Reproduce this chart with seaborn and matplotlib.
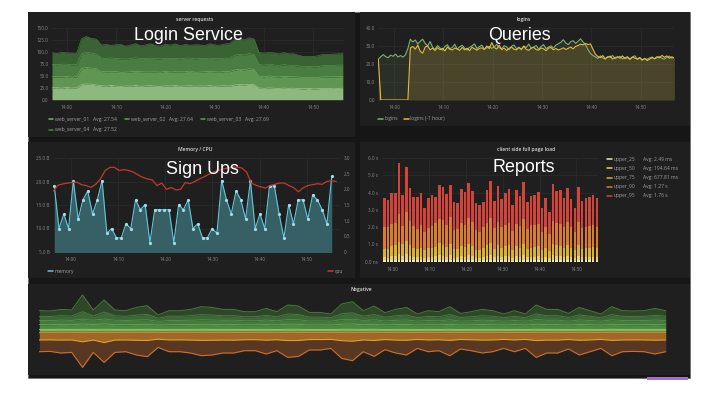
import numpy as np
import matplotlib
matplotlib.use("Agg")
import matplotlib.pyplot as plt
import seaborn as sns
from matplotlib.patches import Rectangle
from matplotlib.lines import Line2D

sns.set_theme(style="dark")
plt.rcParams["font.family"] = ["Open Sans", "DejaVu Sans"]

W, H = 715, 403

# tiempo en minutos desde las 14:00
tick_min = [0, 10, 20, 30, 40, 50]
tick_lab = ["14:00", "14:10", "14:20", "14:30", "14:40", "14:50"]

# server requests (una muestra por minuto, 13:57 .. 14:56)
t_req = np.arange(-3, 57)
web_server_01 = [24.8, 25.3, 24.1, 25.6, 24.5, 25.0,
                 31.8, 33.2, 32.5, 31.0,
                 29.4, 28.2, 29.9, 28.6, 27.8, 29.1, 28.4, 29.7, 28.0, 28.9, 29.5, 28.3, 27.9, 29.2,
                 28.7, 29.8, 28.1, 28.8, 29.4, 28.2, 29.0, 28.5, 29.6, 28.0, 28.9, 29.3, 28.6,
                 30.8, 31.9, 31.2, 32.4, 31.5,
                 24.6, 23.9, 24.8, 24.1, 23.6, 24.4, 23.8, 24.2, 23.4, 22.9, 23.6, 22.8, 23.1, 23.9,
                 23.4, 24.1, 23.7, 24.3]
web_server_02 = [23.4, 22.8, 23.9, 23.1, 22.6, 23.5,
                 33.5, 34.6, 33.8, 34.2,
                 29.8, 30.6, 29.1, 30.2, 29.5, 28.8, 30.4, 29.6, 30.9, 29.3, 28.7, 30.1, 29.9, 30.5,
                 29.2, 28.9, 30.3, 29.7, 30.8, 29.4, 29.0, 30.2, 29.6, 30.7, 29.1, 29.8, 30.4,
                 31.6, 32.2, 31.4, 32.8, 31.9,
                 24.9, 24.3, 25.1, 24.6, 24.0, 24.8, 24.4, 23.9, 24.5, 23.6, 23.2, 23.8, 23.4, 24.1,
                 24.6, 24.0, 24.7, 24.3]
web_server_03 = [26.1, 25.5, 26.6, 25.8, 26.3, 25.4,
                 31.2, 32.0, 31.6, 30.8,
                 28.3, 27.6, 28.8, 27.9, 28.5, 27.2, 28.1, 28.7, 27.5, 28.4, 29.0, 27.8, 28.2, 27.4,
                 28.9, 28.0, 27.7, 28.6, 27.3, 28.3, 28.8, 27.9, 28.1, 27.6, 28.5, 28.2, 27.8,
                 30.6, 31.4, 30.9, 31.8, 31.1,
                 24.7, 24.1, 24.9, 24.4, 23.8, 24.6, 24.2, 23.7, 23.2, 22.8, 23.5, 22.6, 23.0, 23.8,
                 24.3, 23.6, 24.4, 24.0]
web_server_04 = [24.2, 23.5, 24.8, 23.9, 24.5, 23.7,
                 31.8, 32.9, 30.6, 31.4,
                 27.4, 29.6, 26.3, 28.8, 30.1, 27.0, 28.2, 29.9, 26.6, 28.5, 30.4, 27.3, 26.8, 29.1,
                 28.0, 30.6, 27.5, 28.9, 26.9, 29.4, 28.3, 27.1, 30.2, 28.6, 27.8, 29.7, 31.0,
                 32.4, 33.6, 31.9, 33.1, 32.7,
                 24.8, 25.6, 24.1, 25.3, 24.6, 25.1, 23.9, 24.7, 22.4, 21.3, 20.8, 21.6, 22.9, 23.6,
                 22.8, 24.1, 23.4, 23.9]
req_avgs = ["27.54", "27.64", "27.69", "27.52"]

# logins (cada 30 s)
t_log = np.linspace(-3.2, 56.8, 121)
logins = [22.7, 24.1, 25.3, 24.2, 23.6, 25.0, 24.4, 25.6, 24.0, 24.8, 23.9, 25.2,
          28.8, 33.9,
          32.4, 33.5, 31.2, 32.8, 33.9, 31.5, 30.2, 32.6,
          29.5, 28.2, 30.4, 29.0, 27.8, 29.9, 30.8, 28.6, 29.3, 31.1,
          28.4, 29.7, 30.5, 28.9, 27.9, 29.4, 30.2, 31.3, 28.7, 29.8,
          30.6, 28.3, 29.1, 30.0, 28.8, 29.6, 31.0, 29.2, 28.5, 30.3,
          29.7, 28.1, 29.9, 30.7, 28.6, 29.4, 28.0, 30.1, 29.3, 31.2,
          28.9, 29.6, 30.4, 28.4, 29.8, 30.9, 28.7, 29.5, 30.2, 29.0,
          30.6, 31.4,
          32.2, 33.6, 31.8, 30.9, 32.5, 33.1, 31.6, 32.8, 34.1, 32.4,
          30.8, 28.2, 26.0,
          24.8, 24.1, 23.2, 24.6, 23.5, 22.8, 24.3, 23.7, 24.9, 23.1,
          23.8, 24.4, 22.9, 23.6, 24.2, 23.0, 23.9, 24.7, 22.6, 23.4,
          22.2, 23.1, 22.7, 23.5, 24.0, 22.9, 23.6, 24.3, 23.2, 22.8,
          23.9, 24.5, 23.3, 23.8]
logins_1h = [22.7, 0.0, 0.0, 0.0, 0.0, 0.0, 0.0, 0.0, 0.0, 0.0, 0.0, 0.0,
             0.0, 29.1,
             29.8, 28.4, 30.6, 27.2, 26.1, 29.5, 30.3, 28.0,
             28.9, 27.6, 29.2, 28.1, 28.8, 27.4, 29.5, 28.3, 27.9, 29.0,
             28.5, 27.7, 29.3, 28.0, 28.9, 27.5, 29.4, 28.6, 27.8, 28.8,
             29.1, 28.2, 30.1, 28.7, 32.0, 29.3, 28.4, 30.6, 28.1, 29.0,
             27.6, 28.8, 29.5, 28.3, 27.9, 29.2, 28.5, 30.0, 28.2, 27.7,
             28.9, 29.4, 28.1, 27.8, 29.0, 28.6, 27.5, 28.9, 29.3, 28.0,
             28.7, 27.9, 28.4, 29.1, 28.2, 28.8, 29.6, 28.5, 29.9, 30.4,
             31.2, 30.7,
             31.6, 30.9, 31.3, 28.4, 25.6,
             24.3, 23.6, 24.8, 23.0, 23.9, 24.5, 22.8, 23.7, 24.1, 23.3,
             24.6, 23.1, 23.8, 22.6, 24.0, 23.4, 22.9, 23.7, 22.4, 23.2,
             22.0, 22.8, 23.6, 23.1, 24.2, 23.5, 24.9, 23.8, 24.6, 23.3,
             24.1, 23.5]

# Memory / CPU
t_mem = np.linspace(-3.54, 55.3, 59)
memory = [19.1, 10.0, 13.1, 10.0, 20.2, 12.0, 16.1, 18.0, 13.1, 16.1,
          20.2, 9.0, 10.0, 8.0, 8.0, 11.0, 10.0, 16.1, 14.0, 15.1,
          7.0, 14.0, 14.0, 14.0, 14.0, 7.0, 15.1, 14.0, 16.1, 10.0,
          11.0, 8.0, 8.0, 10.0, 9.0, 20.2, 16.1, 13.1, 18.0, 16.1,
          12.0, 20.2, 10.0, 13.1, 10.0, 19.1, 19.1, 13.1, 8.0, 15.1,
          11.0, 16.1, 16.1, 12.0, 17.1, 16.1, 14.0, 11.0, 21.1]
t_cpu = np.linspace(-3.75, 56.25, 61)
cpu = [1.94, 2.13, 2.17, 2.20, 2.22, 2.23, 2.15, 2.12, 2.06, 2.16,
       2.33, 2.60, 2.70, 2.70, 2.60, 2.63, 2.60, 2.55, 2.46, 2.38,
       2.33, 2.30, 2.12, 2.20, 2.00, 2.06, 1.98, 2.00, 2.22, 2.18,
       2.25, 2.33, 2.40, 2.48, 2.55, 2.60, 2.65, 2.68, 2.71, 2.71,
       2.68, 2.55, 2.20, 2.13, 2.08, 2.04, 2.12, 2.16, 2.20, 2.20,
       2.12, 2.05, 1.92, 2.05, 2.12, 2.15, 2.18, 2.16, 2.25, 2.28,
       2.25]

# client side full page load (niveles apilados, en segundos)
t_bar = np.linspace(-2.3, 55.6, 59)
upper_95 = [3.67, 3.58, 3.97, 3.97, 5.70, 3.87, 5.50, 4.26, 3.77, 3.77,
            3.97, 3.13, 3.67, 3.87, 3.77, 4.45, 4.35, 3.90, 4.41, 3.48,
            3.38, 4.22, 4.02, 4.55, 4.10, 3.38, 3.29, 3.48, 4.16, 4.68,
            3.52, 4.39, 3.62, 3.97, 4.20, 3.29, 4.14, 3.81, 4.64, 3.48,
            3.81, 3.87, 4.02, 3.13, 3.71, 2.90, 4.49, 4.10, 4.16, 3.67,
            4.29, 3.64, 3.10, 4.35, 3.52, 3.67, 3.77, 3.87, 3.67]
upper_90 = [2.03, 2.03, 2.16, 2.22, 2.74, 2.09, 2.89, 2.36, 2.09, 1.89,
            2.12, 1.74, 1.97, 2.09, 2.22, 2.47, 2.41, 2.12, 2.61, 1.83,
            1.89, 2.22, 2.12, 2.51, 2.31, 1.83, 1.74, 2.03, 2.22, 2.51,
            1.94, 2.30, 2.00, 2.15, 2.25, 1.80, 2.20, 2.05, 2.45, 1.90,
            2.10, 2.10, 2.20, 1.70, 2.00, 1.60, 2.35, 2.25, 2.20, 2.00,
            2.30, 2.00, 1.70, 2.30, 1.95, 2.00, 2.05, 2.10, 2.00]
upper_75 = [0.75, 0.75, 0.93, 0.97, 1.12, 1.01, 1.20, 0.97, 0.77, 0.73,
            0.81, 0.67, 0.77, 0.81, 0.87, 1.06, 0.97, 0.87, 1.01, 0.73,
            0.73, 0.93, 0.87, 1.01, 0.93, 0.67, 0.67, 0.77, 0.97, 1.06,
            0.75, 0.95, 0.80, 0.90, 0.95, 0.65, 0.90, 0.80, 1.00, 0.75,
            0.80, 0.85, 0.90, 0.65, 0.80, 0.60, 1.00, 0.95, 0.90, 0.80,
            0.95, 0.80, 0.65, 0.95, 0.75, 0.80, 0.80, 0.85, 0.80]
upper_50 = [0.28, 0.24, 0.33, 0.35, 0.42, 0.31, 0.45, 0.34, 0.27, 0.25,
            0.29, 0.22, 0.27, 0.29, 0.31, 0.38, 0.34, 0.30, 0.36, 0.24,
            0.25, 0.33, 0.30, 0.37, 0.33, 0.23, 0.22, 0.27, 0.34, 0.38,
            0.26, 0.34, 0.28, 0.32, 0.35, 0.23, 0.33, 0.28, 0.37, 0.26,
            0.28, 0.30, 0.33, 0.22, 0.28, 0.20, 0.36, 0.34, 0.32, 0.28,
            0.35, 0.28, 0.22, 0.34, 0.26, 0.28, 0.29, 0.30, 0.28]
upper_25 = [0.08, 0.07, 0.09, 0.09, 0.10, 0.08, 0.11, 0.09, 0.07, 0.07,
            0.08, 0.06, 0.07, 0.08, 0.08, 0.10, 0.09, 0.08, 0.09, 0.07,
            0.07, 0.09, 0.08, 0.10, 0.09, 0.06, 0.06, 0.07, 0.09, 0.10,
            0.07, 0.09, 0.07, 0.08, 0.09, 0.06, 0.09, 0.08, 0.10, 0.07,
            0.08, 0.08, 0.09, 0.06, 0.07, 0.06, 0.10, 0.09, 0.09, 0.07,
            0.09, 0.07, 0.06, 0.09, 0.07, 0.08, 0.08, 0.08, 0.07]
bar_names = ["upper_25", "upper_50", "upper_75", "upper_90", "upper_95"]
bar_avgs = ["Avg: 2.49 ms", "Avg: 194.64 ms", "Avg: 677.81 ms", "Avg: 1.27 s", "Avg: 1.76 s"]

# Negative (5 series positivas, 3 negativas)
x_neg = np.arange(59)
g1 = [1.3, 1.3, 1.4, 1.3, 1.4, 1.3, 1.4, 1.3, 1.3, 1.3, 1.4, 1.2, 1.3, 1.3, 1.3, 1.4, 1.3, 1.3, 1.3, 1.2,
      1.3, 1.3, 1.2, 1.4, 1.4, 1.2, 1.2, 1.2, 1.4, 1.4, 1.3, 1.4, 1.2, 1.3, 1.3, 1.2, 1.3, 1.2, 1.4, 1.2,
      1.3, 1.3, 1.3, 1.2, 1.3, 1.2, 1.4, 1.3, 1.3, 1.2, 1.3, 1.3, 1.2, 1.4, 1.3, 1.3, 1.3, 1.3, 1.3]
g2 = [4.8, 4.7, 4.9, 4.8, 5.3, 4.9, 5.4, 4.8, 4.7, 4.9, 5.0, 4.3, 4.7, 4.8, 4.9, 5.0, 5.0, 4.8, 4.9, 4.6,
      4.6, 4.9, 4.6, 5.1, 5.0, 4.5, 4.6, 4.4, 5.1, 5.3, 4.7, 5.0, 4.5, 4.8, 5.0, 4.4, 4.7, 4.6, 5.0, 4.4,
      4.6, 4.9, 4.7, 4.4, 4.8, 4.4, 5.1, 4.8, 4.9, 4.4, 5.0, 4.7, 4.4, 5.0, 4.8, 4.7, 4.7, 4.9, 4.7]
g3 = [4.2, 4.1, 4.3, 4.2, 4.8, 4.3, 4.9, 4.4, 4.2, 4.4, 4.5, 3.8, 4.2, 4.1, 4.3, 4.5, 4.4, 4.3, 4.3, 4.1,
      4.0, 4.4, 4.1, 4.6, 4.5, 4.0, 4.0, 3.9, 4.6, 4.8, 4.2, 4.5, 4.0, 4.3, 4.4, 3.9, 4.2, 4.1, 4.5, 3.9,
      4.0, 4.3, 4.2, 3.9, 4.1, 3.9, 4.6, 4.3, 4.3, 3.9, 4.4, 4.2, 3.9, 4.5, 4.1, 4.1, 4.2, 4.4, 4.2]
g4 = [4.0, 4.1, 4.4, 4.3, 7.5, 4.2, 7.0, 4.5, 4.2, 5.0, 5.4, 3.2, 4.3, 4.2, 4.5, 5.2, 5.0, 4.6, 4.5, 4.0,
      4.1, 4.8, 4.0, 5.6, 5.3, 3.9, 3.8, 3.5, 5.8, 6.4, 4.3, 5.3, 3.8, 4.6, 5.0, 3.5, 4.2, 4.0, 5.2, 3.7,
      4.1, 4.5, 4.3, 3.5, 4.2, 3.5, 5.6, 4.6, 4.5, 3.7, 5.0, 4.3, 3.5, 5.2, 4.2, 4.1, 4.2, 4.8, 4.3]
g5 = [5.7, 5.5, 6.3, 6.1, 16.7, 6.0, 12.0, 5.7, 5.6, 7.7, 8.7, 3.2, 5.5, 5.6, 6.3, 7.9, 7.6, 6.3, 6.3, 5.1,
      5.0, 6.9, 5.1, 9.0, 8.5, 4.7, 4.7, 3.7, 9.8, 11.1, 5.5, 8.5, 4.5, 6.3, 7.6, 3.7, 5.6, 5.1, 7.9, 4.1,
      5.0, 6.3, 5.5, 3.7, 5.6, 3.7, 9.0, 6.3, 6.3, 4.1, 7.6, 5.5, 3.7, 7.9, 5.6, 5.5, 5.6, 6.9, 5.5]
o1 = [2.0, 2.0, 2.0, 2.0, 2.1, 2.0, 2.1, 2.0, 2.0, 2.0, 2.0, 1.9, 2.0, 2.0, 2.0, 2.0, 2.0, 2.0, 2.0, 2.0,
      2.0, 2.0, 2.0, 2.0, 2.0, 1.9, 1.9, 1.9, 2.0, 2.1, 2.0, 2.0, 1.9, 2.0, 2.0, 1.9, 2.0, 2.0, 2.0, 1.9,
      2.0, 2.0, 2.0, 1.9, 2.0, 1.9, 2.0, 2.0, 2.0, 1.9, 2.0, 2.0, 1.9, 2.0, 2.0, 2.0, 2.0, 2.0, 2.0]
o2 = [7.3, 7.2, 7.4, 7.3, 9.0, 7.4, 9.8, 7.4, 7.3, 7.6, 7.8, 6.6, 7.3, 7.2, 7.4, 7.7, 7.6, 7.4, 7.5, 7.1,
      7.0, 7.5, 7.1, 7.9, 7.8, 7.0, 7.0, 6.8, 8.0, 8.4, 7.3, 7.8, 7.0, 7.4, 7.6, 6.8, 7.3, 7.1, 7.7, 6.9,
      7.1, 7.4, 7.3, 6.8, 7.3, 6.8, 7.9, 7.4, 7.5, 6.9, 7.6, 7.3, 6.8, 7.7, 7.3, 7.2, 7.3, 7.5, 7.3]
o3 = [11.7, 11.5, 12.9, 12.4, 25.6, 12.3, 19.8, 12.3, 11.7, 14.7, 16.2, 8.2, 11.7, 11.8, 12.9, 15.3, 14.7,
      12.9, 12.8, 10.9, 11.0, 13.8, 10.9, 16.8, 15.9, 10.4, 10.4, 9.0, 17.7, 19.5, 11.7, 15.9, 10.1, 12.9,
      14.7, 9.0, 11.7, 10.9, 15.3, 9.5, 10.9, 12.9, 11.7, 9.0, 11.7, 9.0, 16.8, 12.9, 12.8, 9.5, 14.7,
      11.7, 9.0, 15.3, 11.7, 11.5, 11.7, 13.8, 11.7]

# colores
BG = "#161616"
PANEL = "#1f1f1f"
GRID = "#2c2c2c"
TICK = "#8a8a8a"
TITLE = "#d8d9da"
LEG = "#a0a0a0"
req_colors = ["#8db87e", "#5f9653", "#4a7d41", "#3a6333"]
req_lines = ["#9cc78c", "#6ea861", "#579049", "#467a3c"]
req_swatch = ["#7eb26d", "#6aa35a", "#629e51", "#508642"]
bar_colors = ["#efe3c6", "#e8cd6a", "#ddb02a", "#dc7a2e", "#d2443a"]

fig = plt.figure(figsize=(W / 100, H / 100), dpi=100, facecolor="white")


def box(x0, y0, x1, y1, color, edge="none", lw=0):
    fig.patches.append(Rectangle((x0 / W, 1 - y1 / H), (x1 - x0) / W, (y1 - y0) / H,
                                 transform=fig.transFigure, facecolor=color,
                                 edgecolor=edge, linewidth=lw, zorder=-10))


def ptext(x, y, s, **kw):
    fig.text(x / W, 1 - y / H, s, **kw)


def swatch(x, y, color, label, size=3.6):
    fig.add_artist(Line2D([x / W, (x + 4.5) / W], [1 - y / H] * 2, color=color, lw=1.1,
                          transform=fig.transFigure))
    ptext(x + 6.5, y, label, color=LEG, fontsize=size, va="center")


def panel_axes(x0, y0, x1, y1):
    ax = fig.add_axes([x0 / W, 1 - y1 / H, (x1 - x0) / W, (y1 - y0) / H])
    ax.patch.set_visible(False)
    for s in ax.spines.values():
        s.set_visible(False)
    ax.tick_params(colors=TICK, labelsize=3.3, length=0, pad=2.5)
    ax.tick_params(axis="x", pad=3.5)
    ax.grid(True, color=GRID, lw=0.5)
    ax.set_axisbelow(True)
    return ax


def time_axis(ax, x0, x1):
    ax.set_xlim(x0, x1)
    ax.set_xticks(tick_min)
    ax.set_xticklabels(tick_lab)


# fondo del dashboard y paneles
box(27.7, 11.7, 690, 378, BG, edge="#6a6a6a", lw=0.5)
box(28, 12, 355, 137, PANEL)
box(360, 12, 690, 126, PANEL)
box(28, 142, 355, 278, PANEL)
box(360, 142, 690, 278, PANEL)
box(28, 284, 690, 375, PANEL)
box(647, 377, 688, 379.5, "#a56bd1")

# titulos de paneles
for x, y, s in [(195, 19.3, "server requests"), (524, 19.3, "logins"),
                (195, 149.3, "Memory / CPU"), (526, 149.3, "client side full page load"),
                (361, 290, "Negative")]:
    ptext(x, y, s, color=TITLE, fontsize=3.6, fontweight="semibold", ha="center", va="center")

# server requests
ax1 = panel_axes(52, 28.3, 344.3, 99.7)
ax1.stackplot(t_req, web_server_01, web_server_02, web_server_03, web_server_04,
              colors=req_colors, lw=0)
cum = np.zeros(len(t_req))
for serie, c in zip([web_server_01, web_server_02, web_server_03, web_server_04], req_lines):
    cum = cum + np.array(serie)
    sns.lineplot(x=t_req, y=cum, color=c, lw=0.5, ax=ax1)
ax1.set_ylim(0, 150)
ax1.set_yticks([0, 25, 50, 75, 100, 125, 150])
ax1.set_yticklabels(["0.0", "25.0", "50.0", "75.0", "100.0", "125.0", "150.0"])
time_axis(ax1, -3, 56.3)
for i, (c, a) in enumerate(zip(req_swatch, req_avgs)):
    x = 48.5 + 76 * (i % 3)
    y = 119 if i < 3 else 130
    swatch(x, y, c, f"web_server_0{i + 1}   Avg: {a}")

# logins
ax2 = panel_axes(378.3, 28.3, 674.3, 100)
ax2.fill_between(t_log, logins, color="#7eb26d", alpha=0.12, lw=0)
ax2.fill_between(t_log, logins_1h, color="#eab839", alpha=0.16, lw=0)
sns.lineplot(x=t_log, y=logins, color="#7eb26d", lw=0.8, ax=ax2)
sns.lineplot(x=t_log, y=logins_1h, color="#eab839", lw=0.8, ax=ax2)
ax2.set_ylim(0, 40)
ax2.set_yticks([0, 10, 20, 30, 40])
ax2.set_yticklabels(["0.0", "10.0", "20.0", "30.0", "40.0"])
time_axis(ax2, -3.2, 56.8)
swatch(378, 118.5, "#7eb26d", "logins")
swatch(404, 118.5, "#eab839", "logins (-1 hour)")

# Memory / CPU
ax3 = panel_axes(53, 158, 340, 252)
ax3.fill_between(t_mem, memory, 0, color="#375f66", lw=0)
sns.lineplot(x=t_mem, y=memory, color="#62c6d8", lw=0.8, marker="o", markersize=2.3,
             markerfacecolor="#9fdde8", markeredgewidth=0, ax=ax3)
ax3.set_ylim(5, 25)
ax3.set_yticks([5, 10, 15, 20, 25])
ax3.set_yticklabels(["5.0 B", "10.0 B", "15.0 B", "20.0 B", "25.0 B"])
time_axis(ax3, -3.8, 57.05)
ax3b = ax3.twinx()
ax3b.patch.set_visible(False)
for s in ax3b.spines.values():
    s.set_visible(False)
sns.lineplot(x=t_cpu, y=cpu, color="#c4392d", lw=0.9, ax=ax3b)
ax3b.set_ylim(0, 3)
ax3b.set_yticks([0, 0.5, 1, 1.5, 2, 2.5, 3])
ax3b.set_yticklabels(["0", "0.5", "1.0", "1.5", "2.0", "2.5", "3.0"])
ax3b.tick_params(colors=TICK, labelsize=3.3, length=0, pad=2.5)
ax3b.grid(False)
ax3b.set_xlim(-3.8, 57.05)
swatch(48, 271, "#62c6d8", "memory")
swatch(328, 271, "#c4392d", "cpu")

# client side full page load
ax4 = panel_axes(381.7, 158, 598.3, 261.7)
for serie, c in zip([upper_95, upper_90, upper_75, upper_50, upper_25], bar_colors[::-1]):
    sns.barplot(x=t_bar, y=serie, native_scale=True, orient="x", color=c, saturation=1,
                width=0.72, errorbar=None, linewidth=0, ax=ax4)
ax4.set_ylim(0, 6)
ax4.set_yticks([0, 1, 2, 3, 4, 5, 6])
ax4.set_yticklabels(["0.0 ns", "1.0 s", "2.0 s", "3.0 s", "4.0 s", "5.0 s", "6.0 s"])
time_axis(ax4, -3.0, 56.0)
for i, (n, a, c) in enumerate(zip(bar_names, bar_avgs, bar_colors)):
    y = 159 + 9.25 * i
    swatch(607, y, c, n)
    ptext(643.3, y, a, color=LEG, fontsize=3.6, va="center")

# Negative
ax5 = fig.add_axes([39.3 / W, 1 - 372 / H, (675 - 39.3) / W, (372 - 292) / H])
ax5.axis("off")
ax5.stackplot(x_neg, g1, g2, g3, g4, g5,
              colors=["#74b95a", "#4c8a41", "#457a3c", "#3c6736", "#2e4729"], lw=0)
ax5.stackplot(x_neg, -np.array(o1), -np.array(o2), -np.array(o3),
              colors=["#b98234", "#a06729", "#583823"], lw=0)
cum = np.zeros(len(x_neg))
for serie, c in zip([g1, g2, g3, g4, g5], ["#86cc66", "#5ea24c", "#528f47", "#4a7c40", "#4b7a3b"]):
    cum = cum + np.array(serie)
    sns.lineplot(x=x_neg, y=cum, color=c, lw=0.7, ax=ax5)
cum = np.zeros(len(x_neg))
for serie, c in zip([o1, o2, o3], ["#c08a38", "#e0a12a", "#cf6e2b"]):
    cum = cum - np.array(serie)
    sns.lineplot(x=x_neg, y=cum, color=c, lw=0.8, ax=ax5)
ax5.set_xlim(0, 58.86)
ax5.set_ylim(-41.3, 38.7)

# etiquetas superpuestas
for x, y, s in [(188.5, 35, "Login Service"), (519.5, 35, "Queries"),
                (202, 169, "Sign Ups"), (524, 168, "Reports")]:
    ptext(x, y, s, color="white", fontsize=12.9, ha="center", va="center",
          family=["Liberation Sans", "DejaVu Sans"], zorder=10)

fig.savefig("out.png", dpi=100, facecolor="white")
